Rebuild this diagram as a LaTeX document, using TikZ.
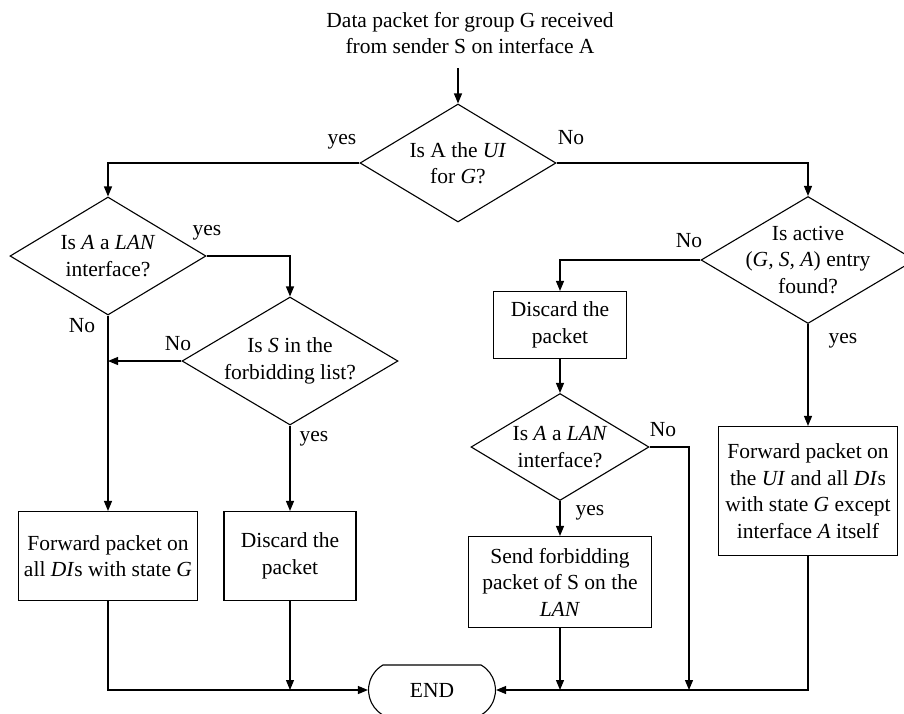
\documentclass[tikz,border=0pt]{standalone}
\usepackage{fontspec}
\setmainfont{Liberation Serif}
\usetikzlibrary{arrows.meta,shapes.geometric,shapes.misc}
\begin{document}
\begin{tikzpicture}[x=1pt,y=-1pt,
  font=\fontsize{21.5}{26.5}\selectfont,
  line width=1.1pt,
  arr/.style={-{Triangle[length=10pt,width=8pt]}},
  decision/.style={diamond, draw, inner sep=0pt},
  procbox/.style={rectangle, draw, inner sep=0pt},
  txt/.style={align=center, inner sep=0pt},
  lbl/.style={anchor=base, inner sep=0pt},
]
\useasboundingbox (0,0) rectangle (904,713);

% entry text
\node[txt] (start) at (470,33) {Data packet for group G received\\from sender S on interface A};
\coordinate (s0) at (458,68);

% decisions
\node[decision, minimum width=196pt, minimum height=118pt] (d1) at (458,163) {};
\node[txt] (d1t) at (d1) {Is A the \textit{UI}\\for \textit{G}?};

\node[decision, minimum width=196pt, minimum height=118pt] (dL) at (108,256) {};
\node[txt] (dLt) at (dL) {Is \textit{A} a \textit{LAN}\\interface?};

\node[decision, minimum width=216pt, minimum height=128pt] (dS) at (290,361) {};
\node[txt] (dSt) at (dS) {Is \textit{S} in the\\forbidding list?};

\node[decision, minimum width=214pt, minimum height=127pt] (dR) at (808,260) {};
\node[txt] (dRt) at (dR) {Is active\\(\textit{G, S, A}) entry\\found?};

\node[decision, minimum width=178pt, minimum height=107pt] (dN) at (560,447) {};
\node[txt] (dNt) at (dN) {Is \textit{A} a \textit{LAN}\\interface?};

% actions
\node[procbox, minimum width=179pt, minimum height=89pt] (bFL) at (108,556) {};
\node[txt] (bFLt) at (bFL) {Forward packet on\\all \textit{DI}s with state \textit{G}};

\node[procbox, minimum width=132pt, minimum height=89pt] (bD1) at (290,556) {};
\node[txt] (bD1t) at (bD1) {Discard the\\packet};

\node[procbox, minimum width=133pt, minimum height=67pt] (bD2) at (560,325) {};
\node[txt] (bD2t) at (bD2) {Discard the\\packet};

\node[procbox, minimum width=183pt, minimum height=91pt] (bSF) at (560,582) {};
\node[txt] (bSFt) at (bSF) {Send forbidding\\packet of S on the\\\textit{LAN}};

\node[procbox, minimum width=179pt, minimum height=129pt] (bFR) at (808,491) {};
\node[txt] (bFRt) at (bFR) {Forward packet on\\the \textit{UI} and all \textit{DI}s\\with state \textit{G} except\\interface \textit{A} itself};

% terminator
\node[rounded rectangle, rounded rectangle arc length=120, draw, inner sep=0pt,
      minimum width=127pt, minimum height=50pt] (END) at (432,690) {END};

\coordinate (m1) at (689,690);

% connectors
\draw[arr] (s0) -- (d1.north);
\draw[arr] (d1.west) -| (dL.north);
\draw[arr] (d1.east) -| (dR.north);
\draw[arr] (dL.east) -| (dS.north);
\draw[arr] (dS.west) -- (dS.west -| dL.south);
\draw[arr] (dL.south) -- (bFL.north);
\draw[arr] (dS.south) -- (bD1.north);
\draw[arr] (dR.west) -| (bD2.north);
\draw[arr] (dR.south) -- (bFR.north);
\draw[arr] (bD2.south) -- (dN.north);
\draw[arr] (dN.south) -- (bSF.north);
\draw[arr] (dN.east) -| (m1);
\draw[arr] (bSF.south) -- (bSF.south |- END);
\draw[arr] (bD1.south) -- (bD1.south |- END);
\draw[arr] (bFL.south) |- (END.west);
\draw[arr] (bFR.south) |- (END.east);

% branch labels
\node[lbl] (y1) at (342,144) {yes};
\node[lbl] (n1) at (571,144) {No};
\node[lbl] (yL) at (207,235) {yes};
\node[lbl] (nL) at (82,332) {No};
\node[lbl] (nS) at (178,350) {No};
\node[lbl] (yS) at (314,441) {yes};
\node[lbl] (nR) at (689,247) {No};
\node[lbl] (yR) at (843,343) {yes};
\node[lbl] (nN) at (663,436) {No};
\node[lbl] (yN) at (590,515) {yes};
\end{tikzpicture}
\end{document}
